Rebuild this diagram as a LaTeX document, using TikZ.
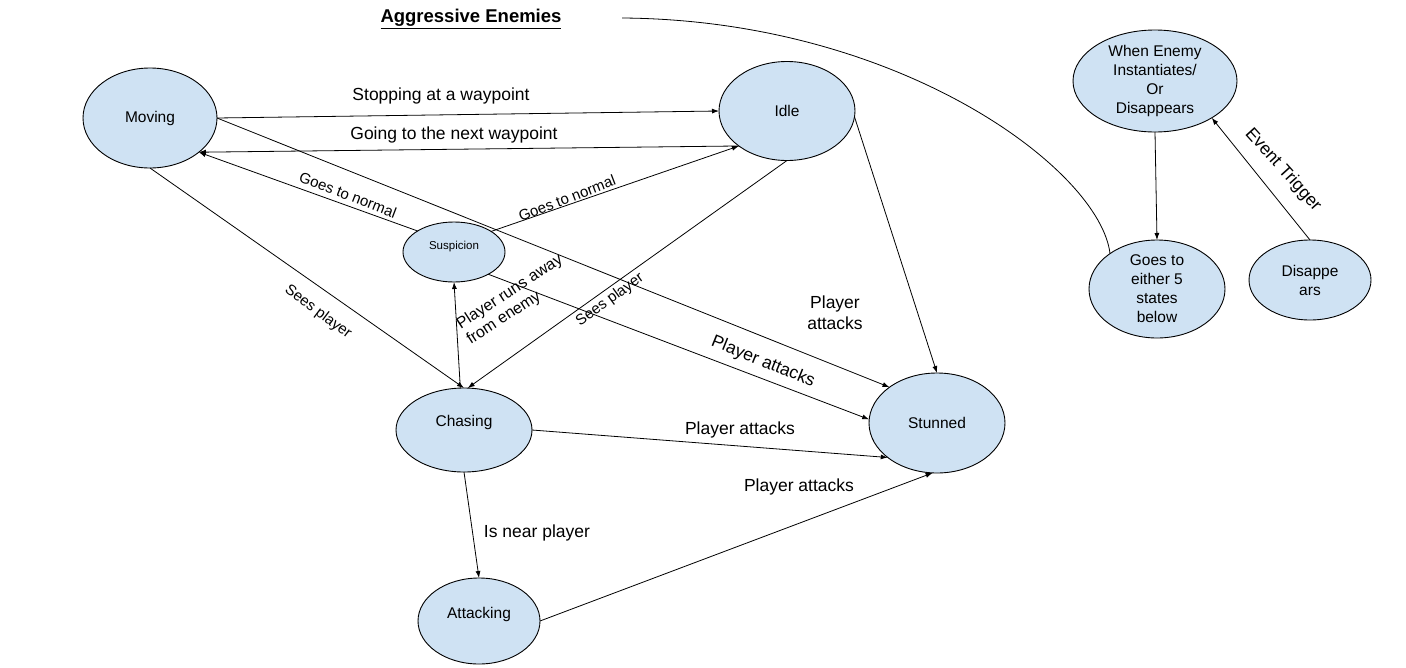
\documentclass[tikz,border=0pt]{standalone}
\usepackage{fontspec}
\setmainfont{Liberation Sans}
\usetikzlibrary{shapes.geometric,arrows.meta,calc}
\definecolor{stfill}{HTML}{CFE2F3}
\begin{document}
\begin{tikzpicture}[x=1pt,y=-1pt,
  st/.style={ellipse,draw=black,fill=stfill,line width=0.9pt,inner sep=0pt,outer sep=0pt,align=center,font=\fontsize{15.5}{19}\selectfont},
  edge/.style={line width=0.8pt,-{Latex[length=7pt,width=5pt]}},
  big/.style={font=\fontsize{17.5}{21}\selectfont,inner sep=1pt},
  small/.style={font=\fontsize{15}{17.5}\selectfont,inner sep=1pt},
]
\useasboundingbox[fill=white] (0,0) rectangle (1406,667);
% states
\node[st,minimum width=134pt,minimum height=100pt] (moving) at (150,118) {\raisebox{-3pt}{Moving}};
\node[st,minimum width=136pt,minimum height=99pt] (idle) at (787,111) {Idle};
\node[st,minimum width=102pt,minimum height=60pt,font=\fontsize{11.5}{14}\selectfont] (susp) at (454,252) {\raisebox{14pt}{Suspicion}};
\node[st,minimum width=136pt,minimum height=84pt] (chasing) at (464,430) {\raisebox{18pt}{Chasing}};
\node[st,minimum width=136pt,minimum height=100pt] (stunned) at (937,423) {Stunned};
\node[st,minimum width=122pt,minimum height=86pt] (attacking) at (479,621) {\raisebox{16pt}{Attacking}};
\node[st,minimum width=164pt,minimum height=102pt] (when) at (1155,81) {When Enemy\\Instantiates/\\Or\\Disappears};
\node[st,minimum width=136pt,minimum height=98pt] (goes) at (1157,289) {Goes to\\either 5\\states\\below};
\node[st,minimum width=122pt,minimum height=80pt] (disap) at (1310,280) {Disappe\\ars};
% connectors
\draw[edge] (moving.east) -- (idle.west);
\draw[edge] (idle.216) -- (moving.325);
\draw[edge] (susp.150) -- (moving.325);
\draw[edge] (susp.29) -- (idle.216);
\draw[edge] (moving.east) -- (stunned.143);
\draw[edge] (susp.327) -- (stunned.177);
\draw[edge] (moving.south) -- (chasing.north);
\draw[edge] (idle.south) -- (chasing.85);
\draw[edge] (chasing.95) -- (susp.south);
\draw[edge] (chasing.east) -- (stunned.215);
\draw[edge] (chasing.south) -- (attacking.north);
\draw[edge] (attacking.east) -- (stunned.265);
\draw[edge] (idle.355) -- (stunned.north);
\coordinate (cstart) at (622,18);
\draw[line width=0.8pt] (cstart) .. controls (900,20) and (1100,170) .. (goes.143);
\draw[edge] (when.south) -- (goes.north);
\draw[edge] (disap.north) -- (when.327);
% labels
\node[font=\bfseries\fontsize{18.5}{22}\selectfont] (title) at (471,19) {\underline{Aggressive Enemies}};
\node[big] (l1) at (441,96) {Stopping at a waypoint};
\node[big] (l2) at (454,135) {Going to the next waypoint};
\node[small,rotate=-21] (l3) at (348,195) {Goes to normal};
\node[small,rotate=21] (l4) at (567,198) {Goes to normal};
\node[small,rotate=-37] (l5) at (318,312) {Sees player};
\node[small,rotate=36] (l6) at (610,300) {Sees player};
\node[font=\fontsize{16}{18.5}\selectfont,inner sep=1pt,rotate=33,align=left] (l7) at (515,300) {Player runs away\\from enemy};
\node[big,align=center] (l8) at (835,313) {Player\\attacks};
\node[big,rotate=-22] (l9) at (763,362) {Player attacks};
\node[big] (l10) at (740,430) {Player attacks};
\node[big] (l11) at (799,487) {Player attacks};
\node[big] (l12) at (537,533) {Is near player};
\node[big,rotate=-48] (l13) at (1283,170) {Event Trigger};
\end{tikzpicture}
\end{document}
